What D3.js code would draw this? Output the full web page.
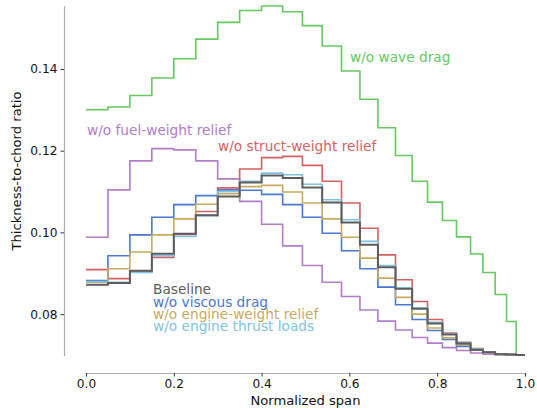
<!DOCTYPE html>
<html>
<head>
<meta charset="utf-8">
<script src="https://cdn.jsdelivr.net/npm/d3@7"></script>
<style>
    body { margin: 0; background: white; }
    svg { font-family: "DejaVu Sans", sans-serif; }
</style>
</head>
<body>
<svg id="chart" width="537" height="408"></svg>
<script>
// Span stations (panel edges) and panel values
const spanEdges = [0, 0.05, 0.10, 0.15, 0.20, 0.25, 0.30, 0.35, 0.40, 0.448, 0.493, 0.538, 0.582,
    0.624, 0.665, 0.705, 0.743, 0.778, 0.812, 0.844, 0.876, 0.904, 0.932, 0.958, 0.980, 1.0];

const waveDrag = [0.1300, 0.1307, 0.1335, 0.1378, 0.1425, 0.1473, 0.1514, 0.1543, 0.1554, 0.1540, 0.1506, 0.1456,
    0.1395, 0.1326, 0.1256, 0.1188, 0.1125, 0.1074, 0.1029, 0.0989, 0.0947, 0.0902, 0.0848, 0.0782, 0.0700];
const fuelWeight = [0.0988, 0.1104, 0.1175, 0.1205, 0.1202, 0.1175, 0.1131, 0.1076, 0.1020, 0.0967, 0.0919, 0.0878,
    0.0843, 0.0810, 0.0783, 0.0761, 0.0743, 0.0729, 0.0718, 0.0711, 0.0705, 0.0702, 0.0701, 0.0700, 0.0700];
const structWeight = [0.0909, 0.0887, 0.0903, 0.0939, 0.0995, 0.1051, 0.1109, 0.1155, 0.1183, 0.1186, 0.1164, 0.1125,
    0.1072, 0.1010, 0.0945, 0.0884, 0.0831, 0.0787, 0.0754, 0.0731, 0.0716, 0.0707, 0.0702, 0.0701, 0.0700];
const viscousDrag = [0.0882, 0.0943, 0.0994, 0.1037, 0.1068, 0.1090, 0.1104, 0.1103, 0.1093, 0.1068, 0.1037, 0.0998,
    0.0955, 0.0911, 0.0866, 0.0823, 0.0787, 0.0760, 0.0738, 0.0721, 0.0712, 0.0706, 0.0702, 0.0701, 0.0700];
const engineWeight = [0.0878, 0.0911, 0.0952, 0.0994, 0.1033, 0.1069, 0.1095, 0.1112, 0.1115, 0.1099, 0.1072, 0.1033,
    0.0988, 0.0937, 0.0888, 0.0841, 0.0800, 0.0766, 0.0742, 0.0725, 0.0713, 0.0706, 0.0702, 0.0701, 0.0700];
const thrustLoads = [0.0880, 0.0878, 0.0902, 0.0943, 0.0990, 0.1041, 0.1100, 0.1125, 0.1145, 0.1141, 0.1118, 0.1080,
    0.1031, 0.0978, 0.0919, 0.0864, 0.0815, 0.0780, 0.0752, 0.0730, 0.0715, 0.0707, 0.0702, 0.0701, 0.0700];
const baseline = [0.0872, 0.0876, 0.0906, 0.0948, 0.0997, 0.1042, 0.1088, 0.1122, 0.1139, 0.1133, 0.1110, 0.1073,
    0.1024, 0.0970, 0.0915, 0.0862, 0.0813, 0.0777, 0.0750, 0.0728, 0.0713, 0.0707, 0.0702, 0.0701, 0.0700];

const xTicks = [0, 0.2, 0.4, 0.6, 0.8, 1.0];
const yTicks = [0.08, 0.10, 0.12, 0.14];

// Series in drawing order (baseline on top)
const series = [
    { name: "w/o wave drag", values: waveDrag, color: "#66c95f", width: 1.6, lx: 350, ly: 62 },
    { name: "w/o fuel-weight relief", values: fuelWeight, color: "#b17cc9", width: 1.6, lx: 87, ly: 135 },
    { name: "w/o struct-weight relief", values: structWeight, color: "#d65f5f", width: 1.6, lx: 218, ly: 151 },
    { name: "w/o viscous drag", values: viscousDrag, color: "#4878d0", width: 1.6, lx: 153, ly: 306.5 },
    { name: "w/o engine-weight relief", values: engineWeight, color: "#c9aa5e", width: 1.6, lx: 153, ly: 318.5 },
    { name: "w/o engine thrust loads", values: thrustLoads, color: "#7fc3e2", width: 1.6, lx: 153, ly: 331 },
    { name: "Baseline", values: baseline, color: "#5c5c5c", width: 2.0, lx: 153, ly: 294 }
];

const svg = d3.select("#chart");

const x = d3.scaleLinear().domain([0, 1]).range([86, 525]);
const y = d3.scaleLinear().domain([0.0700, 0.1554]).range([355, 6]);

// Axes (offset spines, no top/right)
const xAxis = svg.append("g")
    .attr("transform", "translate(0,373)")
    .call(d3.axisBottom(x).tickValues(xTicks).tickFormat(d3.format(".1f")).tickSize(3.5).tickPadding(3));

const yAxis = svg.append("g")
    .attr("transform", "translate(64,0)")
    .call(d3.axisLeft(y).tickValues(yTicks).tickFormat(d3.format(".2f")).tickSize(3.5).tickPadding(3));

yAxis.select(".domain").attr("d", "M0.5,6V356");

[xAxis, yAxis].forEach(g => {
    g.select(".domain").attr("stroke", "#b0b0b0").attr("stroke-width", 1.2);
    g.selectAll(".tick line").attr("stroke", "#333");
    g.selectAll(".tick text")
        .attr("fill", "#111")
        .style("font-size", "12.2px")
        .style("font-family", "DejaVu Sans");
});

svg.append("text")
    .attr("x", 305.5)
    .attr("y", 405)
    .attr("text-anchor", "middle")
    .style("font-size", "13.1px")
    .attr("fill", "#111")
    .text("Normalized span");

svg.append("text")
    .attr("transform", "translate(21,171) rotate(-90)")
    .attr("text-anchor", "middle")
    .style("font-size", "13.1px")
    .attr("fill", "#111")
    .text("Thickness-to-chord ratio");

// Step lines
const line = d3.line()
    .x(d => x(d[0]))
    .y(d => y(d[1]))
    .curve(d3.curveStepAfter);

series.forEach(s => {
    const pts = s.values.map((v, i) => [spanEdges[i], v]);
    pts.push([spanEdges[spanEdges.length - 1], s.values[s.values.length - 1]]);
    svg.append("path")
        .datum(pts)
        .attr("d", line)
        .attr("fill", "none")
        .attr("stroke", s.color)
        .attr("stroke-width", s.width);
});

// Inline labels
svg.append("g")
    .selectAll("text")
    .data(series)
    .enter()
    .append("text")
    .attr("x", d => d.lx)
    .attr("y", d => d.ly)
    .attr("fill", d => d.color)
    .style("font-size", "13.7px")
    .text(d => d.name);
</script>
</body>
</html>
